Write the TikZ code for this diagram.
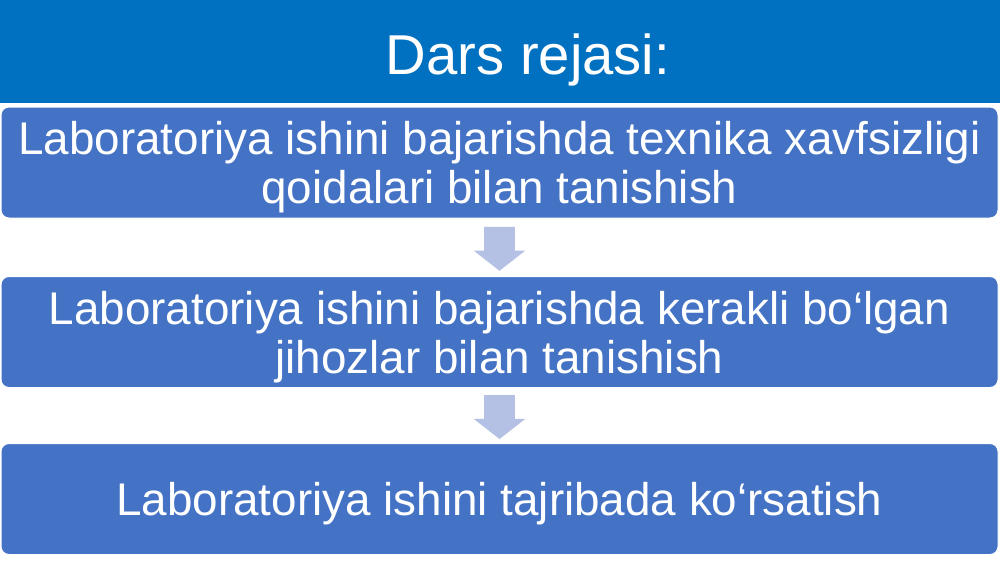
\documentclass[tikz,border=0pt]{standalone}
\usepackage{fontspec}
\setmainfont{Liberation Sans}
\usetikzlibrary{shapes.arrows,calc}
\definecolor{bandblue}{HTML}{0070C0}
\definecolor{boxblue}{HTML}{4472C4}
\definecolor{arrowblue}{HTML}{B4C1E4}

\begin{document}
\begin{tikzpicture}[x=0.5pt,y=-0.5pt,
  stepbox/.style={fill=boxblue, draw=white, line width=0.5pt, rounded corners=4pt,
    minimum width=498.5pt, minimum height=55.5pt, inner sep=0pt, align=center,
    text depth=0pt, text=white, font=\fontsize{22.9}{24.5}\selectfont},
  flowarrow/.style={single arrow, fill=arrowblue, rotate=-90, inner xsep=0pt,
    inner ysep=7.5pt, minimum height=22pt,
    single arrow head extend=5.25pt, single arrow tip angle=104}]
\useasboundingbox (0,0) rectangle (1000,562);
% title band
\fill[bandblue] (0,0) rectangle (1000,103);
\node[anchor=base, text=white, font=\fontsize{28.1}{30}\selectfont] (title) at (528,74) {Dars rejasi:};
% plan steps
\node[stepbox] (plan1) at (499.5,162.5) {Laboratoriya ishini bajarishda texnika xavfsizligi\\qoidalari bilan tanishish};
\node[stepbox] (plan2) at (499.5,332) {Laboratoriya ishini bajarishda kerakli bo‘lgan\\jihozlar bilan tanishish};
\node[stepbox] (plan3) at (499.5,499) {Laboratoriya ishini tajribada ko‘rsatish};
% arrows between steps
\node[flowarrow] (arr1) at ($(plan1.south)!0.5!(plan2.north)+(0,-4.5)$) {};
\node[flowarrow] (arr2) at ($(plan2.south)!0.5!(plan3.north)+(0,-4.5)$) {};
\end{tikzpicture}
\end{document}
